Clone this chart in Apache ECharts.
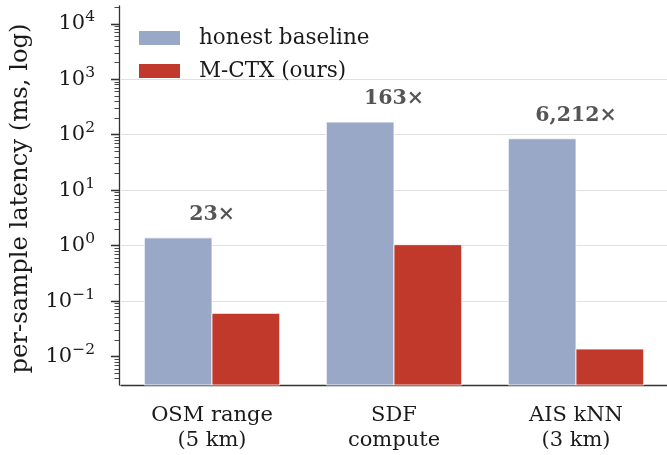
<!DOCTYPE html>
<html>
<head>
<meta charset="utf-8">
<script src="https://cdn.jsdelivr.net/npm/echarts@6/dist/echarts.min.js"></script>
<style>
  html, body { margin: 0; padding: 0; background: #fff; }
  #chart { width: 667px; height: 455px; }
</style>
</head>
<body>
<div id="chart"></div>
<script>
// Workload categories (x axis)
const categories = ['OSM range\n(5 km)', 'SDF\ncompute', 'AIS kNN\n(3 km)'];
// Per-sample latency in ms
const baselineMs = [1.38, 169.5, 84.7];
const mctxMs = [0.06, 1.04, 0.01364];
// Speedup printed over each group
const speedups = [23, 163, 6212];
// Decade ticks on the log axis
const decadeTicks = [1e-2, 1e-1, 1e0, 1e1, 1e2, 1e3, 1e4];
const yMin = 0.00306;
const yMax = 21000;

// Minor ticks at 2..9 within each decade, kept inside the axis range
const minorTicks = [];
for (let e = -3; e <= 4; e++) {
  for (let m = 2; m <= 9; m++) {
    const v = m * Math.pow(10, e);
    if (v >= yMin && v <= yMax) minorTicks.push(v);
  }
}

const FONT = 'DejaVu Serif';
const BASE_COLOR = '#9aa8c7';
const OURS_COLOR = '#c0392b';
const BAR_FRACTION = 0.372; // width of one bar as a share of the category band
const axisColor = '#333333';

// Tick axes below run on a log10 value scale that mirrors the log axis
const logMin = Math.log10(yMin);
const logMax = Math.log10(yMax);
const majorExp = decadeTicks.map(v => Math.log10(v));
const minorExp = minorTicks.map(v => Math.log10(v));

function powerLabel(e) {
  const s = String(Math.round(e)).replace('-', '\u2212');
  return '{b|10}{s|' + s + '}';
}

// Bars grow from the bottom of the log axis; side 0 sits left of the tick, side 1 right
function barRenderer(side, color, withSpeedup) {
  return function (params, api) {
    const cat = api.value(0);
    const val = api.value(1);
    const top = api.coord([cat, val]);
    const bottom = api.coord([cat, yMin]);
    const band = api.size([1, 0])[0];
    const w = band * BAR_FRACTION;
    const x = side === 0 ? top[0] - w : top[0];
    const children = [{
      type: 'rect',
      shape: { x: x, y: top[1], width: w, height: bottom[1] - top[1] },
      style: { fill: color, stroke: '#ffffff', lineWidth: 0.8 }
    }];
    if (withSpeedup) {
      children.push({
        type: 'text',
        x: top[0],
        y: top[1] - 13,
        style: {
          text: speedups[params.dataIndex].toLocaleString('en-US') + '\u00d7',
          fill: '#555555',
          font: 'bold 20.5px "DejaVu Serif"',
          align: 'center',
          verticalAlign: 'bottom'
        }
      });
    }
    return { type: 'group', children: children };
  };
}

const chart = echarts.init(document.getElementById('chart'), null, { renderer: 'canvas' });

chart.setOption({
  animation: false,
  backgroundColor: '#ffffff',
  textStyle: { fontFamily: FONT },
  grid: { left: 121, right: 0, top: 6, bottom: 70, containLabel: false },
  legend: {
    orient: 'vertical',
    left: 134,
    top: 22,
    padding: 5,
    itemWidth: 41,
    itemHeight: 14,
    itemGap: 11,
    icon: 'rect',
    textStyle: { fontFamily: FONT, fontSize: 21.5, color: '#1a1a1a', padding: [0, 0, 0, 14] },
    data: ['honest baseline', 'M-CTX (ours)']
  },
  xAxis: {
    type: 'category',
    data: categories,
    axisLine: { onZero: false, lineStyle: { color: axisColor, width: 1.3 } },
    axisTick: { alignWithLabel: true, length: 7, lineStyle: { color: axisColor, width: 1.3 } },
    axisLabel: { fontFamily: FONT, fontSize: 21, lineHeight: 25, color: '#1a1a1a', margin: 18 },
    splitLine: { show: false }
  },
  yAxis: [
    {
      // Data scale: spine, decade gridlines and title
      type: 'log',
      logBase: 10,
      min: yMin,
      max: yMax,
      offset: 2,
      name: 'per-sample latency (ms, log)',
      nameLocation: 'middle',
      nameGap: 86,
      nameTextStyle: { fontFamily: FONT, fontSize: 24.3, color: '#1a1a1a', padding: [0, 6, 0, 0] },
      axisLine: { show: true, lineStyle: { color: axisColor, width: 1.3 } },
      axisTick: { show: true, customValues: decadeTicks, length: 8, lineStyle: { color: axisColor, width: 1.3 } },
      axisLabel: { show: false, customValues: decadeTicks },
      splitLine: { show: true, showMinLine: false, showMaxLine: false, lineStyle: { color: '#e0e0e0', width: 1.2 } }
    },
    {
      // Decade ticks and 10^n labels
      type: 'value',
      gridIndex: 0,
      min: logMin,
      max: logMax,
      position: 'left',
      offset: 2,
      axisLine: { show: false, onZero: false },
      axisTick: { show: true, customValues: majorExp, length: 8, lineStyle: { color: axisColor, width: 1.3 } },
      axisLabel: {
        customValues: majorExp,
        margin: 24,
        formatter: powerLabel,
        rich: {
          b: { fontFamily: FONT, fontSize: 21, color: '#1a1a1a' },
          s: { fontFamily: FONT, fontSize: 15.5, color: '#1a1a1a', padding: [0, 0, 13, 0] }
        }
      },
      splitLine: { show: false }
    },
    {
      // Minor ticks (2..9 in each decade)
      type: 'value',
      gridIndex: 0,
      min: logMin,
      max: logMax,
      position: 'left',
      offset: 2,
      axisLine: { show: false, onZero: false },
      axisTick: { show: true, customValues: minorExp, length: 4.5, lineStyle: { color: axisColor, width: 0.9 } },
      axisLabel: { show: false, customValues: minorExp },
      splitLine: { show: false }
    }
  ],
  series: [
    {
      name: 'honest baseline',
      type: 'custom',
      coordinateSystem: 'cartesian2d',
      yAxisIndex: 0,
      itemStyle: { color: BASE_COLOR },
      encode: { x: 0, y: 1 },
      data: baselineMs.map((v, i) => [i, v]),
      renderItem: barRenderer(0, BASE_COLOR, true)
    },
    {
      name: 'M-CTX (ours)',
      type: 'custom',
      coordinateSystem: 'cartesian2d',
      yAxisIndex: 0,
      itemStyle: { color: OURS_COLOR },
      encode: { x: 0, y: 1 },
      data: mctxMs.map((v, i) => [i, v]),
      renderItem: barRenderer(1, OURS_COLOR, false)
    }
  ]
});
</script>
</body>
</html>
